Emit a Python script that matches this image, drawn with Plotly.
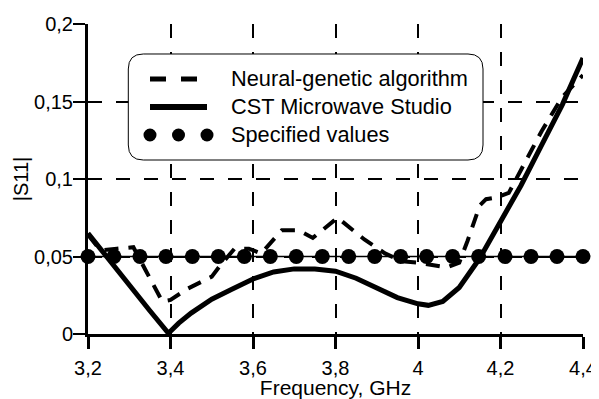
import plotly.graph_objects as go

# ---------------- data ----------------
cst_freq = [3.2, 3.25, 3.3, 3.35, 3.395, 3.42, 3.45, 3.5, 3.55, 3.6, 3.65, 3.7, 3.75,
            3.8, 3.85, 3.9, 3.95, 4.0, 4.025, 4.06, 4.1, 4.15, 4.2, 4.25, 4.3, 4.35, 4.4]
cst_s11 = [0.065, 0.048, 0.032, 0.015, 0.0005, 0.007, 0.0135, 0.0225, 0.029, 0.0355, 0.040,
           0.042, 0.042, 0.0405, 0.036, 0.030, 0.0235, 0.0195, 0.0185, 0.021, 0.030, 0.049,
           0.072, 0.096, 0.122, 0.148, 0.178]

ng_freq = [3.2, 3.23, 3.27, 3.31, 3.34, 3.38, 3.40, 3.44, 3.50, 3.52, 3.555, 3.59, 3.62,
           3.67, 3.71, 3.745, 3.805, 3.87, 3.92, 3.96, 4.0, 4.04, 4.07, 4.10, 4.12, 4.15,
           4.165, 4.19, 4.22, 4.25, 4.3, 4.35, 4.4]
ng_s11 = [0.064, 0.054, 0.055, 0.056, 0.041, 0.021, 0.022, 0.029, 0.037, 0.044, 0.055, 0.055,
          0.052, 0.067, 0.067, 0.062, 0.075, 0.061, 0.052, 0.047, 0.046, 0.044, 0.043, 0.046,
          0.060, 0.083, 0.087, 0.088, 0.091, 0.106, 0.131, 0.153, 0.167]

spec_freq = [3.2, 3.263, 3.326, 3.389, 3.453, 3.516, 3.579, 3.642, 3.705, 3.768, 3.832,
             3.895, 3.958, 4.021, 4.084, 4.147, 4.211, 4.274, 4.337, 4.4]
spec_s11 = [0.05, 0.05, 0.05, 0.05, 0.05, 0.05, 0.05, 0.05, 0.05, 0.05, 0.05, 0.05, 0.05,
            0.05, 0.05, 0.05, 0.05, 0.05, 0.05, 0.05]

x_tickvals = [3.2, 3.4, 3.6, 3.8, 4.0, 4.2, 4.4]
x_ticktext = ["3,2", "3,4", "3,6", "3,8", "4", "4,2", "4,4"]
y_tickvals = [0, 0.05, 0.1, 0.15, 0.2]
y_ticktext = ["0", "0,05", "0,1", "0,15", "0,2"]

legend_labels = ["Neural-genetic algorithm", "CST Microwave Studio", "Specified values"]

# ---------------- layout geometry ----------------
# the page body has an 8px margin, so the figure is drawn shifted by 8px
OFF = 8
W, H = 599 - OFF, 399 - OFF
ML, MT = 88 - OFF, 24 - OFF
MR = W - (583 - OFF)
MB = H - (334 - OFF)
PW, PH = 583 - 88, 334 - 24


def px(x):  # reference-pixel x -> paper
    return (x - 88) / PW


def py(y):  # reference-pixel y -> paper
    return (334 - y) / PH


FONT = "Liberation Sans, Arial, sans-serif"

fig = go.Figure()
fig.add_trace(go.Scatter(x=spec_freq, y=spec_s11, mode="lines+markers",
                         line=dict(color="black", width=1.5),
                         marker=dict(color="black", size=15),
                         cliponaxis=False, showlegend=False, name=legend_labels[2]))
fig.add_trace(go.Scatter(x=cst_freq, y=cst_s11, mode="lines",
                         line=dict(color="black", width=5),
                         cliponaxis=False, showlegend=False, name=legend_labels[1]))
fig.add_trace(go.Scatter(x=ng_freq, y=ng_s11, mode="lines",
                         line=dict(color="black", width=4, dash="14px,10px"),
                         cliponaxis=False, showlegend=False, name=legend_labels[0]))

# rounded legend box
L, R, T, B, r = 128.3, 483, 54, 160, 15


def P(x, y):
    return f"{px(x):.5f},{py(y):.5f}"


path = (f"M {P(L + r, T)} L {P(R - r, T)} Q {P(R, T)} {P(R, T + r)} "
        f"L {P(R, B - r)} Q {P(R, B)} {P(R - r, B)} L {P(L + r, B)} "
        f"Q {P(L, B)} {P(L, B - r)} L {P(L, T + r)} Q {P(L, T)} {P(L + r, T)} Z")

shapes = [dict(type="path", path=path, xref="paper", yref="paper",
               line=dict(color="black", width=1), fillcolor="white", layer="above")]
rows = [79, 107, 135]
shapes.append(dict(type="line", xref="paper", yref="paper", x0=px(150), x1=px(197),
                   y0=py(rows[0]), y1=py(rows[0]),
                   line=dict(color="black", width=5, dash="16px,15px"), layer="above"))
shapes.append(dict(type="line", xref="paper", yref="paper", x0=px(150), x1=px(207),
                   y0=py(rows[1]), y1=py(rows[1]),
                   line=dict(color="black", width=6), layer="above"))
for cx in [150, 178.5, 207]:
    rr = 6.5
    shapes.append(dict(type="circle", xref="paper", yref="paper",
                       x0=px(cx - rr), x1=px(cx + rr), y0=py(rows[2] + rr), y1=py(rows[2] - rr),
                       line=dict(color="black", width=0), fillcolor="black", layer="above"))

annotations = []
for lab, yy in zip(legend_labels, rows):
    annotations.append(dict(text=lab, xref="paper", yref="paper", x=px(229), y=py(yy),
                            xanchor="left", yanchor="middle", showarrow=False,
                            font=dict(family=FONT, size=21.75, color="black")))

grid = dict(showgrid=True, gridcolor="black", gridwidth=1.5, griddash="14px,14px")

fig.update_layout(
    width=W, height=H,
    margin=dict(l=ML, r=MR, t=MT, b=MB, pad=0),
    paper_bgcolor="white", plot_bgcolor="white",
    font=dict(family=FONT, size=20, color="black"),
    separators=",.",
    shapes=shapes, annotations=annotations,
    xaxis=dict(range=[3.2, 4.4], tickvals=x_tickvals, ticktext=x_ticktext,
               showline=True, linecolor="black", linewidth=3,
               ticks="outside", ticklen=12, tickwidth=3, tickcolor="black",
               ticklabelstandoff=2, ticklabeloverflow="allow",
               zeroline=False, title=dict(text="Frequency, GHz", font=dict(size=21), standoff=13),
               automargin=False, **grid),
    yaxis=dict(range=[0, 0.2], tickvals=y_tickvals, ticktext=y_ticktext,
               showline=True, linecolor="black", linewidth=3,
               ticks="outside", ticklen=12, tickwidth=2, tickcolor="black",
               ticklabelstandoff=-4,
               zeroline=False, title=dict(text="|S11|", font=dict(size=20), standoff=1),
               automargin=False, **grid),
)

fig.write_html("out.html")
